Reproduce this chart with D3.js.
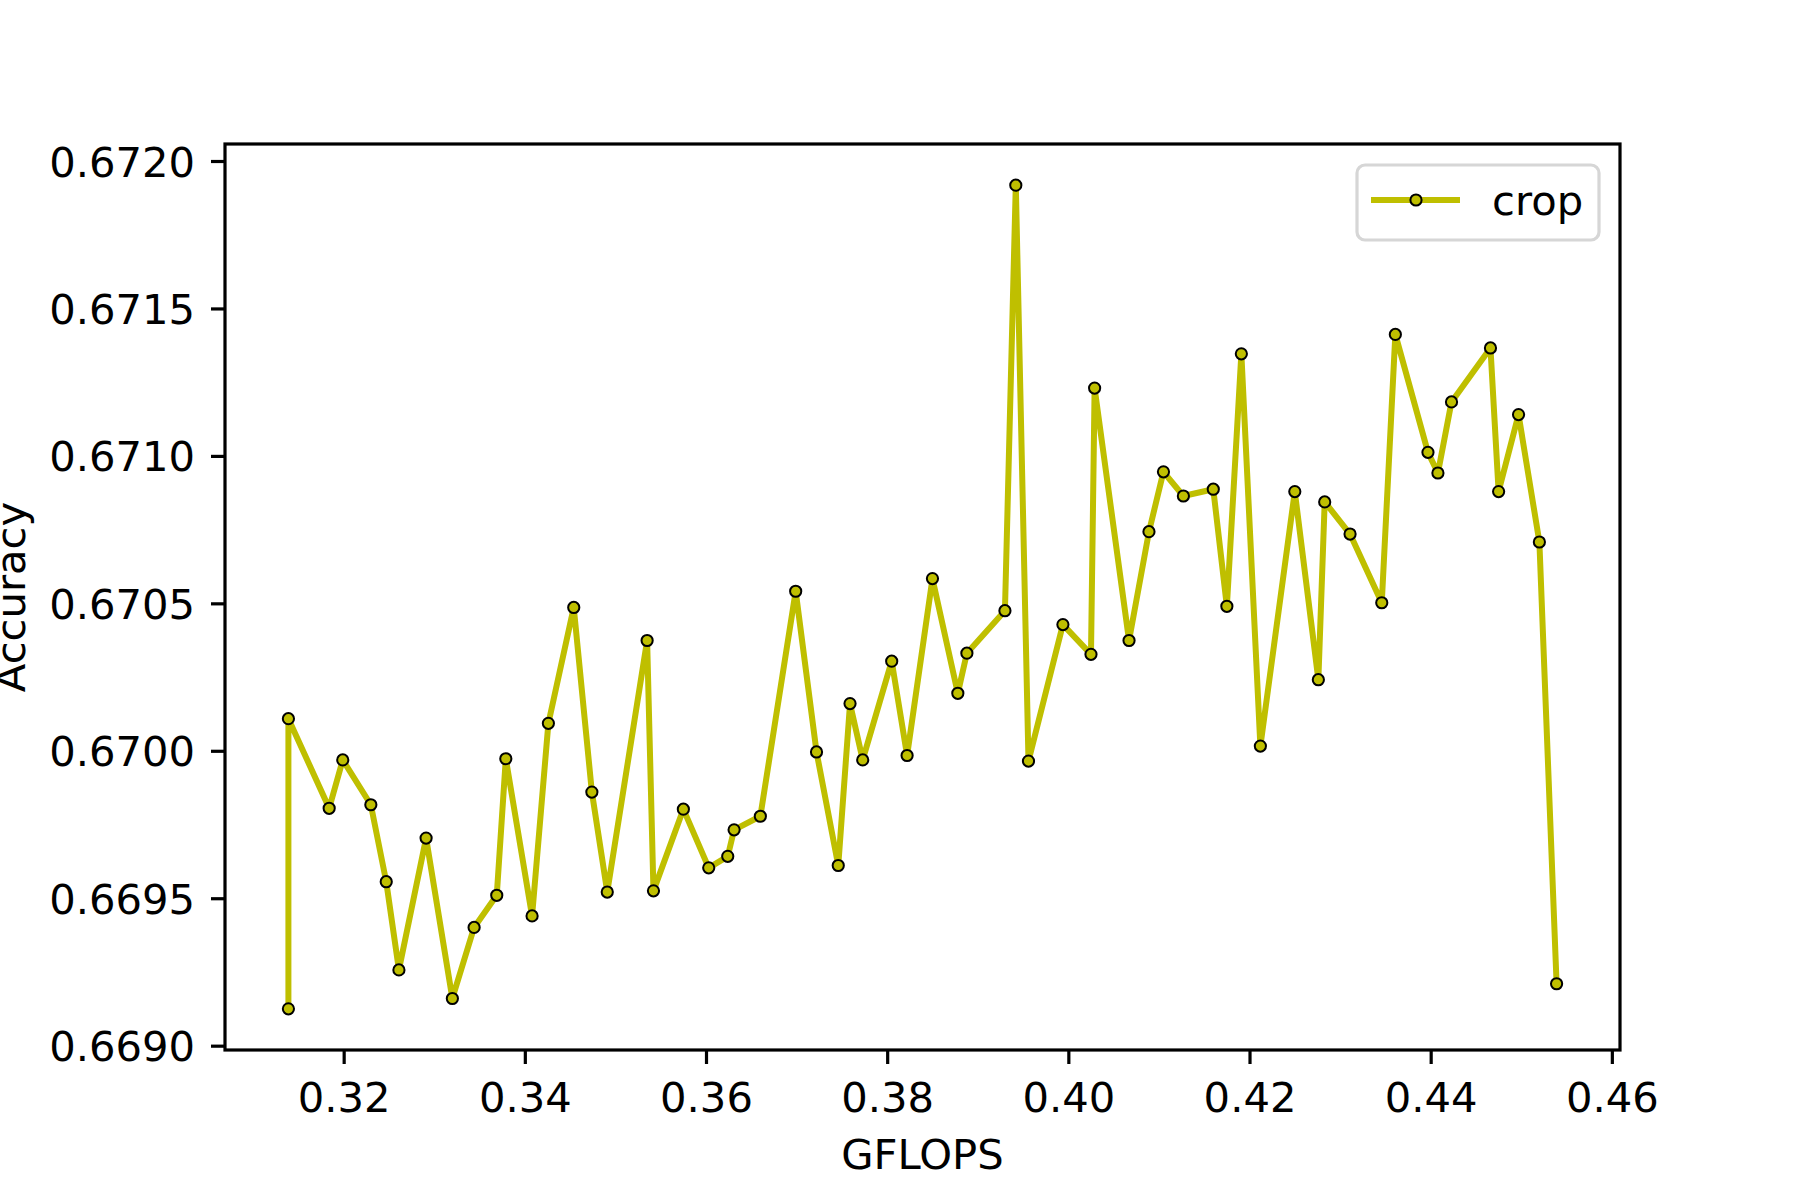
<!DOCTYPE html>
<html>
<head>
<meta charset="utf-8">
<script src="https://cdn.jsdelivr.net/npm/d3@7"></script>
<style>
  html, body { margin: 0; padding: 0; background: #ffffff; }
  svg { display: block; }
  text { font-family: "DejaVu Sans", sans-serif; fill: #000; }
</style>
</head>
<body>
<svg id="chart" width="1800" height="1200"></svg>
<script>
// ---- data ----
const seriesName = "crop";
const gflops = [
  0.3139, 0.3139, 0.3184, 0.3199, 0.3230, 0.3247, 0.3261, 0.3291, 0.3320, 0.3344,
  0.3369, 0.3379, 0.3408, 0.3426, 0.3454, 0.3474, 0.3491, 0.3535, 0.3542, 0.3575,
  0.3603, 0.3624, 0.3631, 0.3660, 0.3699, 0.3722, 0.3746, 0.3759, 0.3773, 0.3805,
  0.3822, 0.3850, 0.3878, 0.3888, 0.3930, 0.3942, 0.3956, 0.3994, 0.4025, 0.4029,
  0.4067, 0.4089, 0.4105, 0.4127, 0.4160, 0.4175, 0.4191, 0.4212, 0.4250, 0.4276,
  0.4283, 0.4311, 0.4346, 0.4361, 0.4397, 0.4408, 0.4423, 0.4466, 0.4475, 0.4497,
  0.4520, 0.4539
];
const accuracy = [
  0.669125, 0.670109, 0.669805, 0.669969, 0.669817, 0.669556, 0.669257, 0.669704, 0.669160, 0.669401,
  0.669510, 0.669973, 0.669440, 0.670093, 0.670486, 0.669860, 0.669521, 0.670374, 0.669525, 0.669802,
  0.669603, 0.669642, 0.669732, 0.669778, 0.670541, 0.669996, 0.669611, 0.670160, 0.669969, 0.670304,
  0.669984, 0.670584, 0.670195, 0.670331, 0.670475, 0.671918, 0.669965, 0.670428, 0.670327, 0.671230,
  0.670374, 0.670743, 0.670946, 0.670864, 0.670887, 0.670490, 0.671346, 0.670016, 0.670879, 0.670241,
  0.670844, 0.670735, 0.670502, 0.671412, 0.671012, 0.670942, 0.671183, 0.671366, 0.670879, 0.671140,
  0.670708, 0.669210
];
const xTicks = [0.32, 0.34, 0.36, 0.38, 0.40, 0.42, 0.44, 0.46];
const yTicks = [0.6690, 0.6695, 0.6700, 0.6705, 0.6710, 0.6715, 0.6720];
const xLabel = "GFLOPS";
const yLabel = "Accuracy";

// ---- layout ----
const W = 1800, H = 1200;
const plot = { left: 225, right: 1620, top: 144, bottom: 1050 };
const lineColor = "#bfbf00";
const fontSize = 41.7;

const points = gflops.map((g, i) => ({ x: g, y: accuracy[i] }));

function padded(ext) {
  const r = ext[1] - ext[0];
  return [ext[0] - 0.05 * r, ext[1] + 0.05 * r];
}

const x = d3.scaleLinear().domain(padded(d3.extent(gflops))).range([plot.left, plot.right]);
const y = d3.scaleLinear().domain(padded(d3.extent(accuracy))).range([plot.bottom, plot.top]);

const svg = d3.select("#chart");
svg.append("rect").attr("width", W).attr("height", H).attr("fill", "#fff");

// line
const line = d3.line().x(d => x(d.x)).y(d => y(d.y));
svg.append("path")
  .datum(points)
  .attr("d", line)
  .attr("fill", "none")
  .attr("stroke", lineColor)
  .attr("stroke-width", 6)
  .attr("stroke-linejoin", "round")
  .attr("stroke-linecap", "butt");

// markers
svg.append("g").selectAll("circle")
  .data(points)
  .enter().append("circle")
  .attr("cx", d => x(d.x))
  .attr("cy", d => y(d.y))
  .attr("r", 5.6)
  .attr("fill", lineColor)
  .attr("stroke", "#000")
  .attr("stroke-width", 2);

// axes
const xAxis = d3.axisBottom(x).tickValues(xTicks).tickFormat(d3.format(".2f"))
  .tickSizeInner(14).tickSizeOuter(0).tickPadding(14);
const yAxis = d3.axisLeft(y).tickValues(yTicks).tickFormat(d3.format(".4f"))
  .tickSizeInner(14).tickSizeOuter(0).tickPadding(14);

const gx = svg.append("g").attr("transform", `translate(0,${plot.bottom})`).call(xAxis);
const gy = svg.append("g").attr("transform", `translate(${plot.left},0)`).call(yAxis);
[gx, gy].forEach(g => {
  g.select(".domain").remove();
  g.selectAll(".tick line").attr("stroke", "#000").attr("stroke-width", 3.2);
  g.selectAll(".tick text")
    .attr("font-family", "DejaVu Sans, sans-serif")
    .attr("font-size", fontSize)
    .attr("fill", "#000");
});
gx.selectAll(".tick text").attr("dy", null).attr("y", 62);
gy.selectAll(".tick text").attr("dy", "0.36em").attr("x", -30);

// frame
svg.append("rect")
  .attr("x", plot.left).attr("y", plot.top)
  .attr("width", plot.right - plot.left).attr("height", plot.bottom - plot.top)
  .attr("fill", "none").attr("stroke", "#000").attr("stroke-width", 3.2);

// axis labels
svg.append("text")
  .attr("x", (plot.left + plot.right) / 2).attr("y", 1169)
  .attr("text-anchor", "middle").attr("font-size", fontSize)
  .text(xLabel);
svg.append("text")
  .attr("transform", `translate(25,${(plot.top + plot.bottom) / 2}) rotate(-90)`)
  .attr("text-anchor", "middle").attr("font-size", fontSize)
  .text(yLabel);

// legend
const lg = svg.append("g");
lg.append("rect")
  .attr("x", 1357).attr("y", 165).attr("width", 242).attr("height", 75)
  .attr("rx", 8).attr("ry", 8)
  .attr("fill", "#fff").attr("fill-opacity", 0.8)
  .attr("stroke", "#d6d6d6").attr("stroke-width", 3.2);
lg.append("line")
  .attr("x1", 1371).attr("x2", 1460).attr("y1", 200).attr("y2", 200)
  .attr("stroke", lineColor).attr("stroke-width", 6);
lg.append("circle")
  .attr("cx", 1416).attr("cy", 200).attr("r", 5.6)
  .attr("fill", lineColor).attr("stroke", "#000").attr("stroke-width", 2);
lg.append("text")
  .attr("x", 1492).attr("y", 215).attr("font-size", fontSize)
  .text(seriesName);
</script>
</body>
</html>
